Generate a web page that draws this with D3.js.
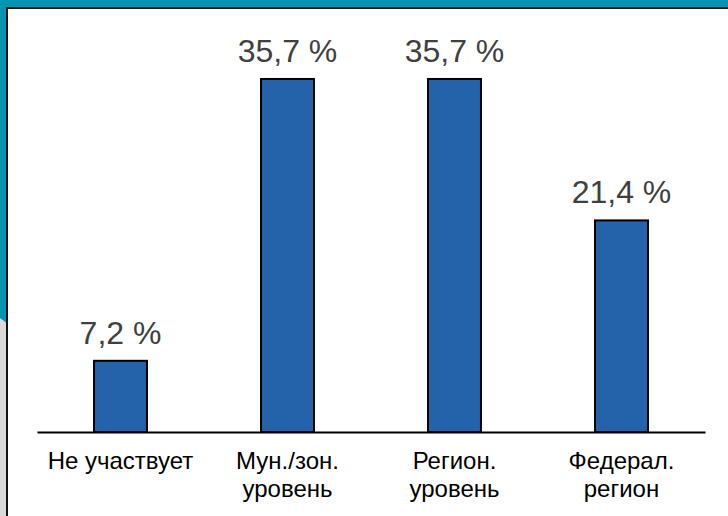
<!DOCTYPE html>
<html>
<head>
<meta charset="utf-8">
<script src="https://cdn.jsdelivr.net/npm/d3@7"></script>
<style>
  html, body { margin: 0; padding: 0; background: #0493b0; }
  svg { display: block; }
</style>
</head>
<body>
<svg id="chart" width="728" height="516"></svg>
<script>
// Участие в конкурсах по уровням
const categories = ["Не участвует", "Мун./зон.|уровень", "Регион.|уровень", "Федерал.|регион"];
const values = [7.2, 35.7, 35.7, 21.4];
const valueLabels = ["7,2 %", "35,7 %", "35,7 %", "21,4 %"];

const W = 728, H = 516;
const svg = d3.select("#chart");

// slide frame: teal background, grey lower-left strip, dark frame edge, white panel
svg.append("rect").attr("x", 0).attr("y", 0).attr("width", W).attr("height", H).attr("fill", "#0493b0");
svg.append("path").attr("d", "M0,318 L8,324 L8,516 L0,516 Z").attr("fill", "#d9d9d9");
svg.append("rect").attr("x", 8).attr("y", 9).attr("width", W - 8).attr("height", H - 9).attr("fill", "#ffffff");
svg.append("path").attr("d", `M7,516 L7,8 L${W},8`).attr("fill", "none").attr("stroke", "#111").attr("stroke-width", 2);

const x = d3.scaleBand().domain(categories).range([37, 705]).paddingInner(0.683).paddingOuter(0.3415);
const y = d3.scaleLinear().domain([0, 35.7]).range([432, 79]);

const g = svg.append("g");

g.selectAll("rect.bar").data(values).join("rect")
  .attr("class", "bar")
  .attr("x", (d, i) => x(categories[i]))
  .attr("y", d => y(d))
  .attr("width", x.bandwidth())
  .attr("height", d => y(0) - y(d))
  .attr("fill", "#2462a9")
  .attr("stroke", "#000")
  .attr("stroke-width", 2);

// baseline axis
const axis = g.append("g").attr("transform", `translate(0,${y(0)})`)
  .call(d3.axisBottom(x).tickSize(0).tickFormat(""));
axis.select(".domain").attr("stroke", "#000").attr("stroke-width", 2);

// value labels
g.selectAll("text.val").data(values).join("text")
  .attr("class", "val")
  .attr("x", (d, i) => x(categories[i]) + x.bandwidth() / 2)
  .attr("y", d => y(d) - 17)
  .attr("text-anchor", "middle")
  .attr("font-family", "Liberation Sans, Arial, sans-serif")
  .attr("font-size", 32)
  .attr("fill", "#404040")
  .text((d, i) => valueLabels[i]);

// category labels (two lines where split by '|')
const cat = g.selectAll("text.cat").data(categories).join("text")
  .attr("class", "cat")
  .attr("x", d => x(d) + x.bandwidth() / 2)
  .attr("y", 469)
  .attr("text-anchor", "middle")
  .attr("font-family", "Liberation Sans, Arial, sans-serif")
  .attr("font-size", 24)
  .attr("fill", "#000");
cat.each(function(d) {
  const t = d3.select(this);
  const cx = t.attr("x");
  d.split("|").forEach((line, i) => {
    t.append("tspan").attr("x", cx).attr("dy", i === 0 ? 0 : 28).text(line);
  });
});
</script>
</body>
</html>
